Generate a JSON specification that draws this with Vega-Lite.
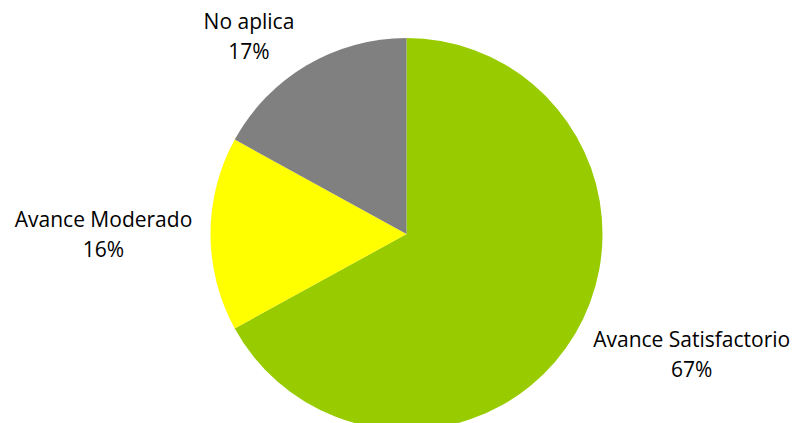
{
  "$schema": "https://vega.github.io/schema/vega-lite/v6.json",
  "autosize": "none",
  "width": 777,
  "height": 378,
  "padding": {"left": 18, "top": 45, "right": 0, "bottom": 0},
  "background": "white",
  "config": {"view": {"stroke": null}},
  "data": {
    "values": [
      {"category": "Avance Satisfactorio", "value": 67, "order": 1},
      {"category": "Avance Moderado", "value": 16, "order": 2},
      {"category": "No aplica", "value": 17, "order": 3}
    ]
  },
  "transform": [
    {"stack": "value", "sort": [{"field": "order", "order": "ascending"}], "groupby": [], "as": ["start", "end"]},
    {"calculate": "(datum.start + datum.end) / 2", "as": "mid"},
    {"calculate": "[datum.category, datum.value + '%']", "as": "label"}
  ],
  "layer": [
    {
      "mark": {"type": "arc", "outerRadius": 196},
      "encoding": {
        "theta": {"field": "start", "type": "quantitative", "scale": {"domain": [0, 100]}},
        "theta2": {"field": "end"},
        "color": {
          "field": "category",
          "type": "nominal",
          "scale": {
            "domain": ["Avance Satisfactorio", "Avance Moderado", "No aplica"],
            "range": ["#99CC00", "#FFFF00", "#808080"]
          },
          "legend": null
        }
      }
    },
    {
      "transform": [{"filter": "datum.category == 'No aplica'"}],
      "mark": {"type": "text", "radius": 227, "dx": -42, "dy": -16, "font": "Open Sans", "fontSize": 21, "lineHeight": 30, "align": "center", "baseline": "middle", "color": "black"},
      "encoding": {
        "theta": {"field": "mid", "type": "quantitative", "scale": {"domain": [0, 100]}},
        "text": {"field": "label"}
      }
    },
    {
      "transform": [{"filter": "datum.category == 'Avance Moderado'"}],
      "mark": {"type": "text", "radius": 303, "dy": -13, "font": "Open Sans", "fontSize": 21, "lineHeight": 30, "align": "center", "baseline": "middle", "color": "black"},
      "encoding": {
        "theta": {"field": "mid", "type": "quantitative", "scale": {"domain": [0, 100]}},
        "text": {"field": "label"}
      }
    },
    {
      "transform": [{"filter": "datum.category == 'Avance Satisfactorio'"}],
      "mark": {"type": "text", "radius": 300, "dx": 27, "dy": -46, "font": "Open Sans", "fontSize": 21, "lineHeight": 30, "align": "center", "baseline": "middle", "color": "black"},
      "encoding": {
        "theta": {"field": "mid", "type": "quantitative", "scale": {"domain": [0, 100]}},
        "text": {"field": "label"}
      }
    }
  ]
}
